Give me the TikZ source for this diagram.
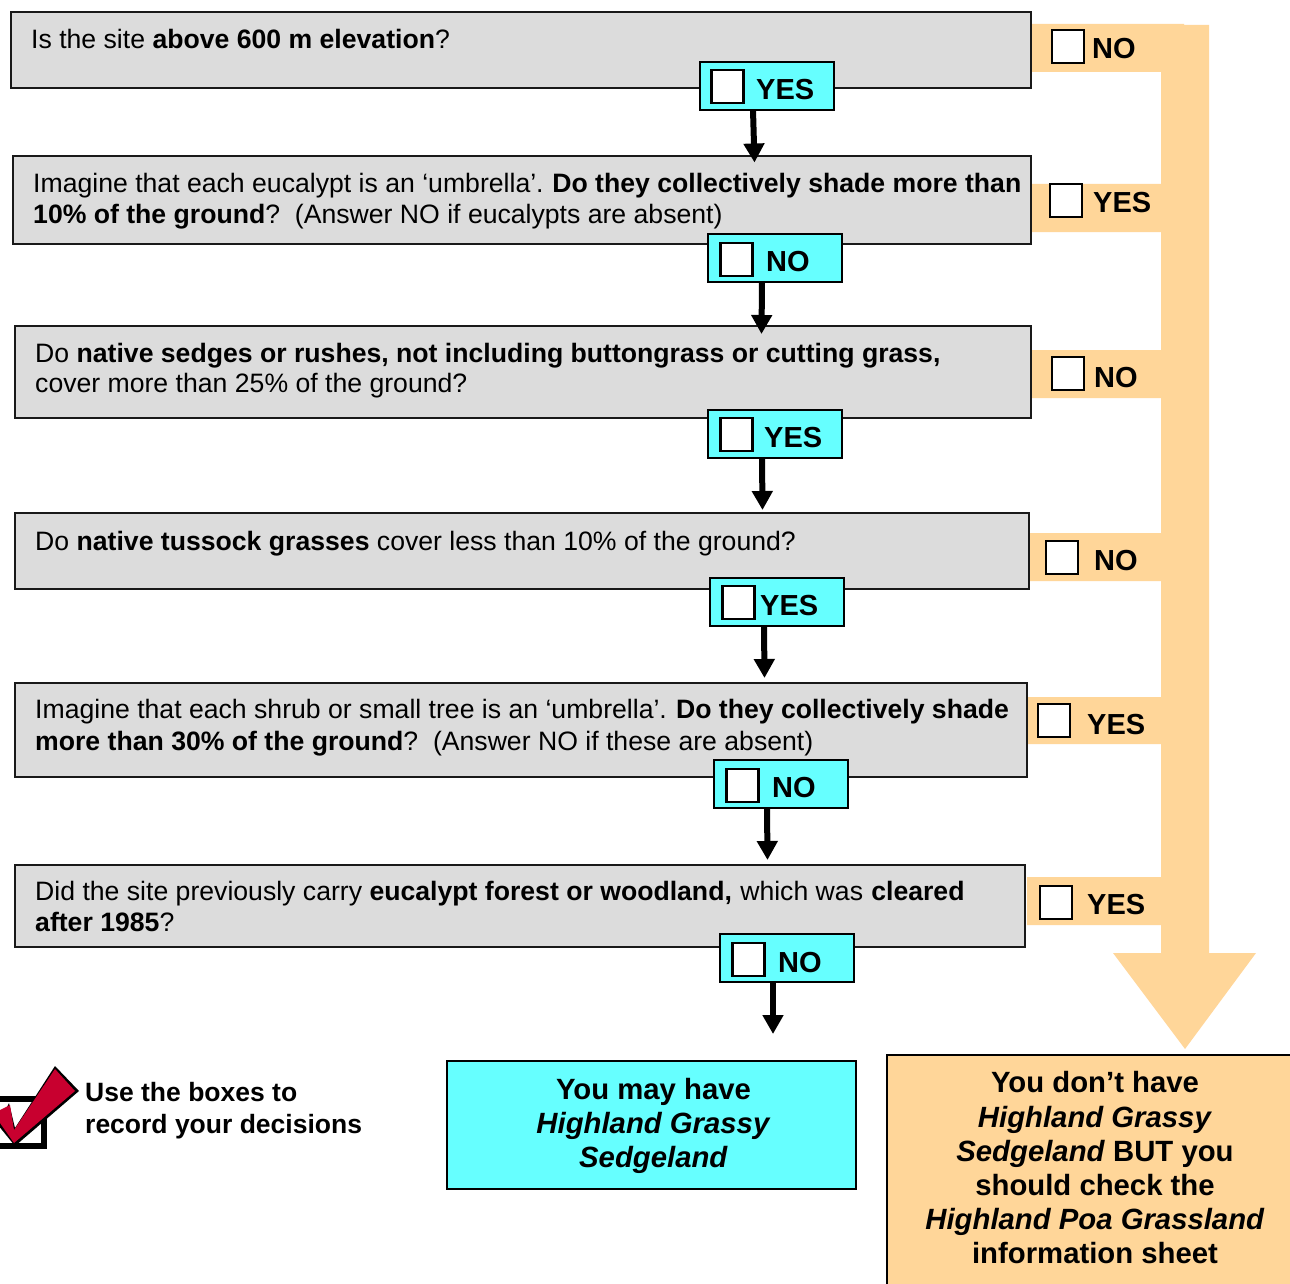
\documentclass[tikz,border=0pt]{standalone}
\usepackage{fontspec}
\setmainfont{Liberation Sans}
\usetikzlibrary{arrows.meta,calc}
\definecolor{qgrey}{HTML}{DCDCDC}
\definecolor{acyan}{HTML}{66FFFF}
\definecolor{borange}{HTML}{FFD699}
\definecolor{tickred}{HTML}{C8002F}
\newcommand{\qfont}{\fontsize{26.62}{31}\selectfont}
\newcommand{\afont}{\fontsize{29}{34}\selectfont\bfseries}
\newcommand{\rfont}{\fontsize{29.3}{34.2}\selectfont\bfseries}
\newcommand{\lfont}{\fontsize{26.5}{32}\selectfont\bfseries}
\tikzset{
  rectbox/.style={anchor=north west,inner sep=0pt,outer sep=0pt},
  qbox/.style={rectbox,draw=black!90,line width=2pt,fill=qgrey},
  abox/.style={rectbox,xshift=1pt,draw=black,line width=2pt,fill=acyan,minimum width=134pt,minimum height=48pt},
  chk/.style={rectbox,draw=black,line width=2.5pt,fill=white,minimum width=32pt,minimum height=33pt},
  qtext/.style={anchor=base west,inner sep=0pt,font=\qfont},
  atext/.style={anchor=base west,inner sep=0pt,font=\afont},
  flow/.style={line width=6pt,-{Triangle[width=20pt,length=19pt]}},
  band/.style={fill=borange,draw=none},
  rtext/.style={inner sep=0pt,align=center,font=\rfont},
}
\begin{document}
\begin{tikzpicture}[x=1pt,y=-1pt]
\path[use as bounding box,clip] (0,0) rectangle (1290,1284);
\fill[white] (0,0) rectangle (1290,1284);
% orange stream
\fill[band] (1031,24) -- (1184,24) -- (1184,25) -- (1209,25) -- (1209,953) -- (1256,953) -- (1185,1049) -- (1113,953) -- (1161,953)
 -- (1161,925) -- (1027,925) -- (1027,877) -- (1161,877)
 -- (1161,744) -- (1027,744) -- (1027,697) -- (1161,697)
 -- (1161,581) -- (1029,581) -- (1029,533) -- (1161,533)
 -- (1161,398) -- (1031,398) -- (1031,350) -- (1161,350)
 -- (1161,232) -- (1031,232) -- (1031,184) -- (1161,184)
 -- (1161,72) -- (1031,72) -- cycle;
% questions
\node[qbox,minimum width=1020.5pt,minimum height=76pt,xshift=.5pt] (q1) at (10,12) {};
\node[qbox,minimum width=1018.5pt,minimum height=88pt,xshift=.5pt] (q2) at (12,156) {};
\node[qbox,minimum width=1016.5pt,minimum height=92pt,xshift=.5pt] (q3) at (14,326) {};
\node[qbox,minimum width=1014.5pt,minimum height=76pt,xshift=.5pt] (q4) at (14,513) {};
\node[qbox,minimum width=1012.5pt,minimum height=94pt,xshift=.5pt] (q5) at (14,683) {};
\node[qbox,minimum width=1010.5pt,minimum height=82pt,xshift=.5pt] (q6) at (14,865) {};
\node[qtext] (t1) at (31,49) {Is the site \textbf{above 600 m elevation}?};
\node[qtext] (t2a) at (33,193) {Imagine that each eucalypt is an ‘umbrella’.\kern-1.2pt{} \textbf{Do they collectively shade more than}};
\node[qtext] (t2b) at (33,223) {\textbf{10\% of the ground}?\ \ (Answer NO if eucalypts are absent)};
\node[qtext] (t3a) at (35,362) {Do \textbf{native sedges or rushes, not including buttongrass or cutting grass,}};
\node[qtext] (t3b) at (35,392) {cover more than 25\% of the ground?};
\node[qtext] (t4) at (35,550) {Do \textbf{native tussock grasses} cover less than 10\% of the ground?};
\node[qtext] (t5a) at (35,718) {Imagine that each shrub or small tree is an ‘umbrella’.\kern-.8pt{} \textbf{Do they collectively shade}};
\node[qtext] (t5b) at (35,750) {\textbf{more than 30\% of the ground}?\ \ (Answer NO if these are absent)};
\node[qtext] (t6a) at (35,900) {Did the site previously carry \textbf{eucalypt forest or woodland,} \kern1pt which was \kern.8pt\textbf{cleared}};
\node[qtext] (t6b) at (35,931) {\textbf{after 1985}?};
% cyan answers
\node[abox] (a1) at (699,62) {};
\node[abox] (a2) at (707,234) {};
\node[abox] (a3) at (707,410) {};
\node[abox] (a4) at (709,578) {};
\node[abox] (a5) at (713,760) {};
\node[abox] (a6) at (719,934) {};
\node[chk,xshift=.5pt] (c1) at (711,70) {};
\node[chk,xshift=.5pt] (c2) at (720,243) {};
\node[chk,xshift=.5pt] (c3) at (720,418) {};
\node[chk,xshift=.5pt] (c4) at (722,586) {};
\node[chk,xshift=.5pt] (c5) at (726,769) {};
\node[chk,xshift=.5pt] (c6) at (732,943) {};
\node[atext] (l1) at (756,100) {YES};
\node[atext] (l2) at (766,271) {NO};
\node[atext] (l3) at (764,447) {YES};
\node[atext] (l4) at (760,615) {YES};
\node[atext] (l5) at (772,797) {NO};
\node[atext] (l6) at (778,972) {NO};
% flow arrows
\draw[flow] ([xshift=53pt]a1.south west) -- ([xshift=742pt,yshift=-6.5pt]q2.north west);
\draw[flow] ([xshift=54pt]a2.south west) -- ([xshift=747pt,yshift=-8pt]q3.north west);
\draw[flow] ([xshift=54pt]a3.south west) -- ([xshift=748pt,yshift=3pt]q4.north west);
\draw[flow] ([xshift=54pt]a4.south west) -- ([xshift=750pt,yshift=5pt]q5.north west);
\draw[flow] ([xshift=53pt]a5.south west) -- ([xshift=753pt,yshift=5pt]q6.north west);
\coordinate (end6) at (773,1034);
\draw[flow] ([xshift=53pt]a6.south west) -- (end6);
% right-hand answers
\node[chk] (r1) at (1052,30) {};
\node[chk] (r2) at (1050,184) {};
\node[chk] (r3) at (1052,357) {};
\node[chk] (r4) at (1046,541) {};
\node[chk] (r5) at (1038,704) {};
\node[chk] (r6) at (1040,886) {};
\node[atext] (n1) at (1092,59) {NO};
\node[atext] (n2) at (1093,212) {YES};
\node[atext] (n3) at (1094,387) {NO};
\node[atext] (n4) at (1094,570.5) {NO};
\node[atext] (n5) at (1087,734) {YES};
\node[atext] (n6) at (1087,914.5) {YES};
% results
\node[rectbox,draw=black,line width=2pt,fill=acyan,minimum width=409pt,minimum height=128pt] (res1) at (447,1061) {};
\node[rtext] (res1t) at (653.5,1126) {You may have\\\textit{Highland Grassy}\\\textit{Sedgeland}};
\node[rectbox,draw=black,line width=2pt,fill=borange,minimum width=420pt,minimum height=240pt] (res2) at (887,1055) {};
\node[rtext] (res2t) at (1095,1168) {You don’t have\\\textit{Highland Grassy}\\\textit{Sedgeland} BUT you\\should check the\\\textit{Highland Poa Grassland}\\information sheet};
% tick legend
\draw[black,line width=6pt] (-10,1099) -- (44,1099) -- (44,1146) -- (-10,1146);
\fill[black] (55,1066) -- (79,1091) -- (15,1146) -- (-2,1125) -- (9,1103) -- (15,1128) -- cycle;
\fill[tickred] (55,1069) -- (75,1091) -- (14,1143) -- (0,1123) -- (0,1110) -- (10,1105) -- (14,1130) -- cycle;
\node[anchor=base west,inner sep=0pt,font=\lfont] (leg1) at (85,1101) {Use the boxes to};
\node[anchor=base west,inner sep=0pt,font=\lfont] (leg2) at (85,1133) {record your decisions};
\end{tikzpicture}
\end{document}
